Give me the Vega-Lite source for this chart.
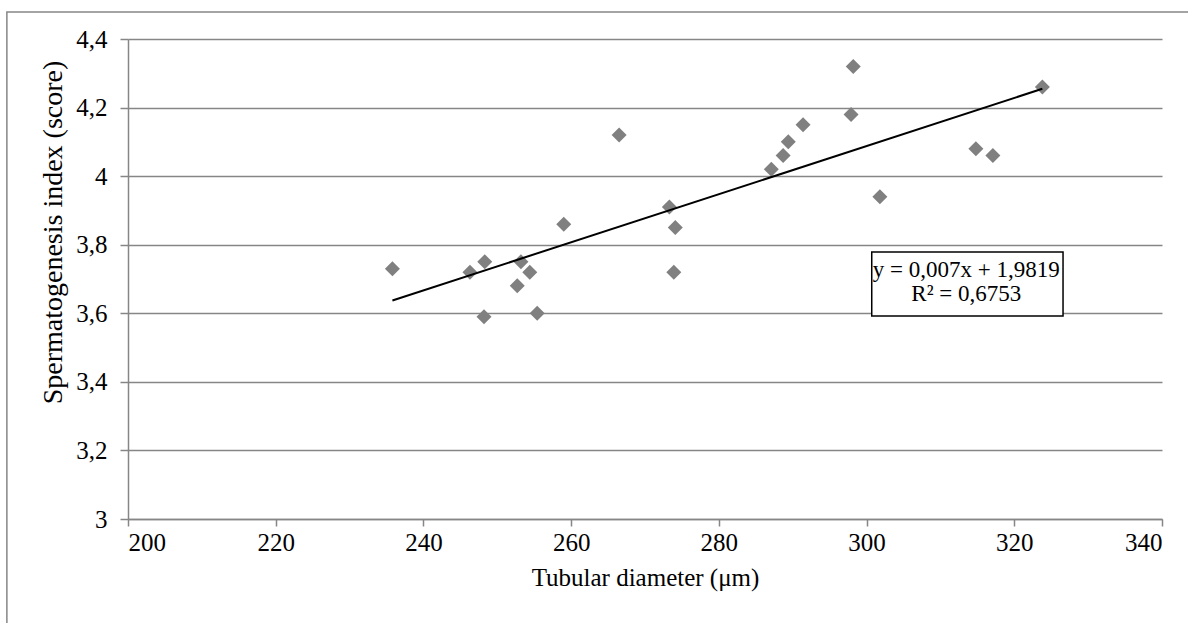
{
  "$schema": "https://vega.github.io/schema/vega-lite/v6.json",
  "width": 1034,
  "height": 480,
  "autosize": "none",
  "padding": {"left": 128, "top": 39, "right": 26, "bottom": 104},
  "background": "white",
  "config": {
    "view": {"stroke": null},
    "axis": {
      "labelColor": "black",
      "titleColor": "black",
      "titleFontWeight": "normal",
      "domainColor": "#868686",
      "tickColor": "#868686",
      "gridColor": "#868686",
      "domainWidth": 1.5,
      "tickWidth": 1.5,
      "gridWidth": 1.5
    }
  },
  "data": {
    "values": [
      {"diameter": 235.8, "index": 3.73},
      {"diameter": 246.3, "index": 3.72},
      {"diameter": 248.3, "index": 3.75},
      {"diameter": 248.2, "index": 3.59},
      {"diameter": 252.7, "index": 3.68},
      {"diameter": 253.2, "index": 3.75},
      {"diameter": 254.4, "index": 3.72},
      {"diameter": 255.4, "index": 3.60},
      {"diameter": 259.0, "index": 3.86},
      {"diameter": 266.5, "index": 4.12},
      {"diameter": 273.3, "index": 3.91},
      {"diameter": 274.1, "index": 3.85},
      {"diameter": 273.9, "index": 3.72},
      {"diameter": 287.1, "index": 4.02},
      {"diameter": 288.7, "index": 4.06},
      {"diameter": 289.4, "index": 4.10},
      {"diameter": 291.4, "index": 4.15},
      {"diameter": 297.9, "index": 4.18},
      {"diameter": 298.2, "index": 4.32},
      {"diameter": 301.8, "index": 3.94},
      {"diameter": 314.8, "index": 4.08},
      {"diameter": 317.1, "index": 4.06},
      {"diameter": 323.8, "index": 4.26}
    ]
  },
  "layer": [
    {
      "mark": {"type": "point", "shape": "diamond", "filled": true, "color": "#808080", "opacity": 1, "size": 225},
      "encoding": {
        "x": {
          "field": "diameter", "type": "quantitative",
          "scale": {"domain": [200, 340], "nice": false, "zero": false},
          "axis": {
            "values": [200, 220, 240, 260, 280, 300, 320, 340],
            "title": "Tubular diameter (μm)",
            "grid": false,
            "tickSize": 7,
            "labelFont": "Times New Roman",
            "titleFont": "Times New Roman",
            "labelFontSize": 25,
            "labelPadding": 4,
            "titleFontSize": 25,
            "titlePadding": 10,
            "encode": {"labels": {"update": {"font": {"value": "Times New Roman"}, "fontSize": {"value": 25}}}}
          }
        },
        "y": {
          "field": "index", "type": "quantitative",
          "scale": {"domain": [3, 4.4], "nice": false, "zero": false},
          "axis": {
            "values": [3, 3.2, 3.4, 3.6, 3.8, 4, 4.2, 4.4],
            "labelExpr": "replace(format(datum.value, '.1~f'), '.', ',')",
            "title": "Spermatogenesis index (score)",
            "grid": true,
            "tickSize": 8,
            "labelFont": "Times New Roman",
            "titleFont": "Times New Roman",
            "labelFontSize": 25,
            "labelPadding": 13,
            "titleFontSize": 28,
            "titlePadding": 8,
            "titleY": 193,
            "encode": {"labels": {"update": {"font": {"value": "Times New Roman"}, "fontSize": {"value": 25}}}}
          }
        }
      }
    },
    {
      "transform": [{"regression": "index", "on": "diameter"}],
      "mark": {"type": "line", "color": "black", "strokeWidth": 2},
      "encoding": {
        "x": {"field": "diameter", "type": "quantitative"},
        "y": {"field": "index", "type": "quantitative"}
      }
    },
    {
      "data": {"values": [{}]},
      "mark": {"type": "rect", "fill": null, "stroke": "#868686", "strokeWidth": 1.5},
      "encoding": {
        "x": {"datum": 183.6},
        "x2": {"datum": 360},
        "y": {"datum": 4.479},
        "y2": {"datum": 2.6}
      }
    },
    {
      "data": {"values": [{}]},
      "mark": {"type": "rect", "fill": "white", "stroke": "black", "strokeWidth": 1.5},
      "encoding": {
        "x": {"datum": 300.7},
        "x2": {"datum": 326.6},
        "y": {"datum": 3.779},
        "y2": {"datum": 3.592}
      }
    },
    {
      "data": {"values": [{}]},
      "mark": {"type": "text", "font": "Times New Roman", "fontSize": 23, "color": "black", "align": "center", "baseline": "middle", "lineHeight": 24},
      "encoding": {
        "x": {"datum": 313.5},
        "y": {"datum": 3.726},
        "text": {"value": ["y = 0,007x + 1,9819", "R² = 0,6753"]}
      }
    }
  ]
}
